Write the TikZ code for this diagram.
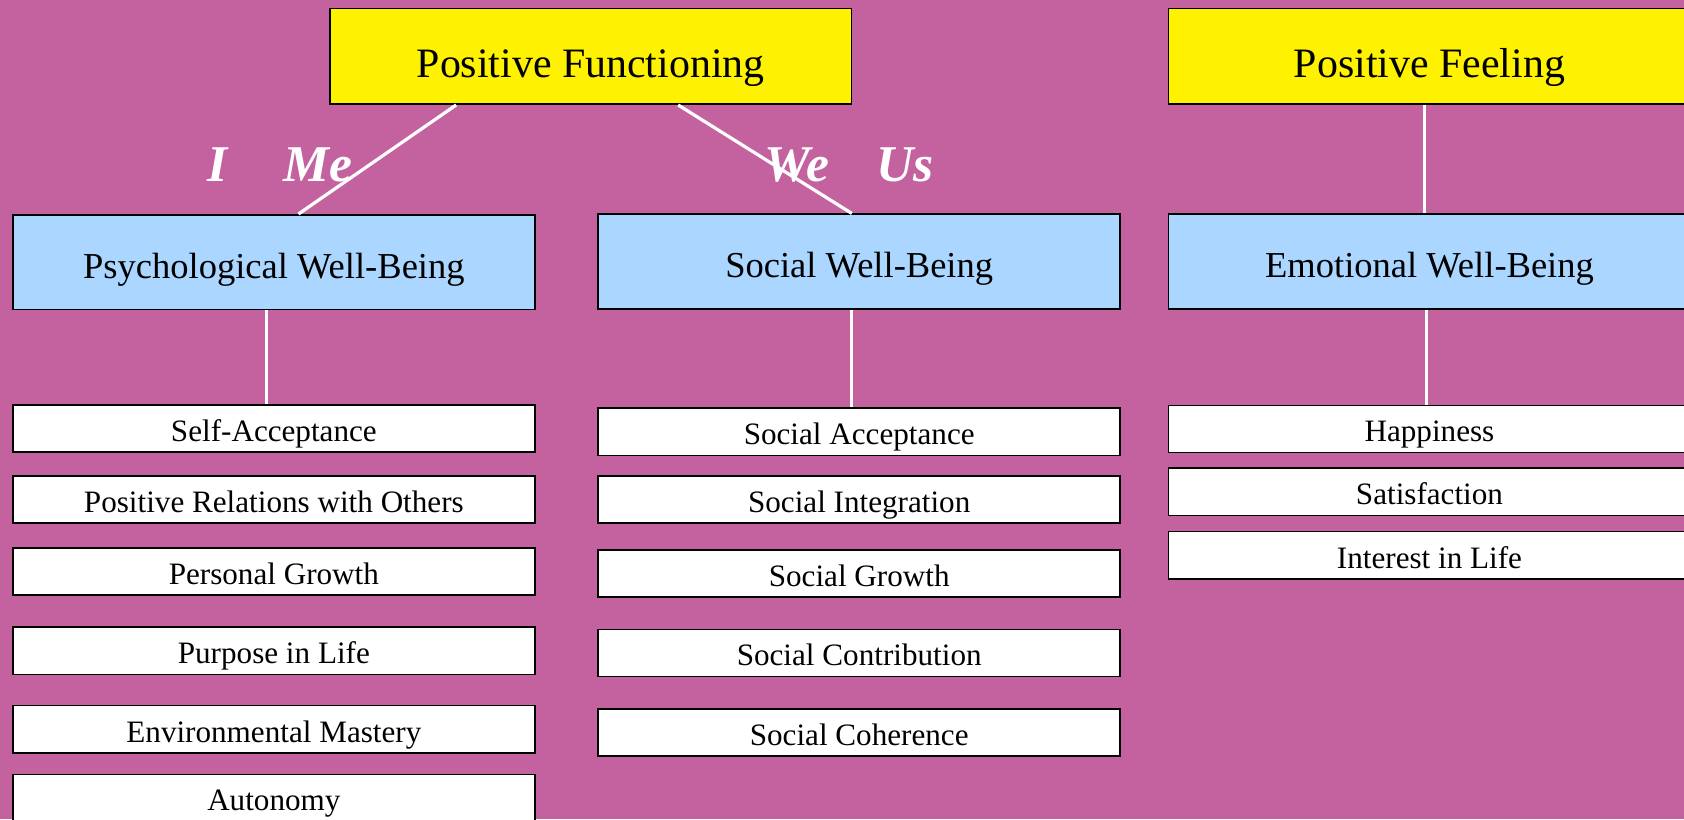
\documentclass[tikz,border=0pt]{standalone}
\usepackage{fontspec}
\setmainfont{Liberation Serif}
\usetikzlibrary{calc}
\definecolor{bg}{RGB}{196,98,160}
\definecolor{lblue}{RGB}{170,214,255}
\begin{document}
\begin{tikzpicture}[x=1pt,y=-1pt,
  box/.style={draw=black,line width=1.5pt,inner sep=0pt,minimum width=486pt,text depth=0pt},
  topbox/.style={box,fill=yellow,minimum height=89pt,text height=39pt,font=\fontsize{39}{44}\selectfont},
  midbox/.style={box,fill=lblue,minimum height=88pt,text height=30pt,font=\fontsize{34}{40}\selectfont},
  itembox/.style={box,fill=white,minimum height=44pt,text height=24pt,font=\fontsize{29}{34}\selectfont},
  pron/.style={text=white,inner sep=0pt,anchor=base,font=\fontsize{48}{54}\selectfont\bfseries\itshape},
  link/.style={white,line width=3pt}]
\useasboundingbox (0,0) rectangle (1568,763);
\clip (0,0) rectangle (1568,763);
\fill[bg] (0,0) rectangle (1568,763);

% pronoun labels
\node[pron] (i) at (203,169) {I};
\node[pron] (me) at (296,169) {Me};
\node[pron] (we) at (742,169) {We};
\node[pron] (us) at (843,169) {Us};

% top level
\node[topbox] (pf) at (550,52.5) {Positive Functioning};
\node[topbox] (pfeel) at (1331,52.5) {Positive Feeling};

% second level
\node[midbox] (psy) at (255,244) {Psychological Well-Being};
\node[midbox] (soc) at (800,243.5) {Social Well-Being};
\node[midbox] (emo) at (1331,243.5) {Emotional Well-Being};

% psychological items
\node[itembox] (p1) at (255,399) {Self-Acceptance};
\node[itembox] (p2) at (255,465) {Positive Relations with Others};
\node[itembox] (p3) at (255,532) {Personal Growth};
\node[itembox] (p4) at (255,606) {Purpose in Life};
\node[itembox] (p5) at (255,679) {Environmental Mastery};
\node[itembox] (p6) at (255,743) {Autonomy};

% social items
\node[itembox] (s1) at (800,402) {Social Acceptance};
\node[itembox] (s2) at (800,465) {Social Integration};
\node[itembox] (s3) at (800,534) {Social Growth};
\node[itembox] (s4) at (800,608) {Social Contribution};
\node[itembox] (s5) at (800,682) {Social Coherence};

% emotional items
\node[itembox] (e1) at (1331,399.5) {Happiness};
\node[itembox] (e2) at (1331,458) {Satisfaction};
\node[itembox] (e3) at (1331,517) {Interest in Life};

% connectors
\draw[link] ($(pf.south west)!0.243!(pf.south east)$) -- ($(psy.north west)!0.547!(psy.north east)$);
\draw[link] ($(pf.south west)!0.667!(pf.south east)$) -- ($(soc.north west)!0.486!(soc.north east)$);
\draw[link] ($(pfeel.south west)!0.49!(pfeel.south east)$) -- ($(emo.north west)!0.49!(emo.north east)$);
\draw[link] ($(psy.south west)!0.486!(psy.south east)$) -- ($(p1.north west)!0.486!(p1.north east)$);
\draw[link] ($(soc.south west)!0.486!(soc.south east)$) -- ($(s1.north west)!0.486!(s1.north east)$);
\draw[link] ($(emo.south west)!0.494!(emo.south east)$) -- ($(e1.north west)!0.494!(e1.north east)$);
\end{tikzpicture}
\end{document}
